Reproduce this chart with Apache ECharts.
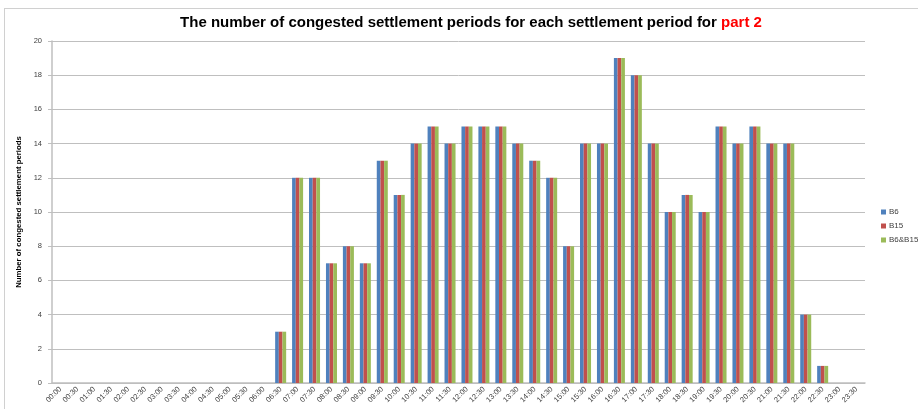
<!DOCTYPE html>
<html><head><meta charset="utf-8">
<script src="https://cdn.jsdelivr.net/npm/echarts@6/dist/echarts.min.js"></script>
<style>html,body{margin:0;padding:0;background:#fff}#c{width:918px;height:409px}</style>
</head><body><div id="c"></div>
<script>
const categories = ["00:00","00:30","01:00","01:30","02:00","02:30","03:00","03:30","04:00","04:30","05:00","05:30","06:00","06:30","07:00","07:30","08:00","08:30","09:00","09:30","10:00","10:30","11:00","11:30","12:00","12:30","13:00","13:30","14:00","14:30","15:00","15:30","16:00","16:30","17:00","17:30","18:00","18:30","19:00","19:30","20:00","20:30","21:00","21:30","22:00","22:30","23:00","23:30"];
const b6     = [0,0,0,0,0,0,0,0,0,0,0,0,0,3,12,12,7,8,7,13,11,14,15,14,15,15,15,14,13,12,8,14,14,19,18,14,10,11,10,15,14,15,14,14,4,1,0,0];
const b15    = [0,0,0,0,0,0,0,0,0,0,0,0,0,3,12,12,7,8,7,13,11,14,15,14,15,15,15,14,13,12,8,14,14,19,18,14,10,11,10,15,14,15,14,14,4,1,0,0];
const b6b15  = [0,0,0,0,0,0,0,0,0,0,0,0,0,3,12,12,7,8,7,13,11,14,15,14,15,15,15,14,13,12,8,14,14,19,18,14,10,11,10,15,14,15,14,14,4,1,0,0];
const seriesNames = ["B6","B15","B6&B15"];
const colors = ["#4F81BD","#C0504D","#9BBB59"];

const chart = echarts.init(document.getElementById('c'), null, {renderer:'canvas'});
const font = 'Liberation Sans, Arial, sans-serif';
chart.setOption({
  animation:false,
  color:colors,
  title:{
    text:'{a|The number of congested settlement periods for each settlement period for }{b|part 2}',
    left:466, top:10, textAlign:'center',
    textStyle:{rich:{
      a:{fontFamily:font,fontWeight:'bold',fontSize:15,color:'#000'},
      b:{fontFamily:font,fontWeight:'bold',fontSize:15,color:'#FF0000'}
    }}
  },
  legend:{
    orient:'vertical', left:876, top:203, itemWidth:5, itemHeight:5, itemGap:6,
    icon:'rect',
    textStyle:{fontFamily:font,fontSize:8,color:'#404040',padding:[0,0,0,-2]},
    data:seriesNames
  },
  grid:{left:52,right:53,top:41,bottom:26,containLabel:false},
  xAxis:{
    type:'category', data:categories,
    axisLine:{lineStyle:{color:'#BFBFBF',width:1.5}},
    axisTick:{show:false},
    axisLabel:{rotate:45,interval:0,fontFamily:font,fontSize:7.5,color:'#404040',margin:5}
  },
  yAxis:{
    type:'value', min:0, max:20, interval:2,
    name:'Number of congested settlement periods',
    nameLocation:'middle', nameGap:27,
    nameTextStyle:{fontFamily:font,fontWeight:'bold',fontSize:7.8,color:'#000'},
    axisLine:{show:true,lineStyle:{color:'#BFBFBF',width:1.5}},
    axisTick:{show:true,length:4,lineStyle:{color:'#BFBFBF'}},
    axisLabel:{fontFamily:font,fontSize:7.5,color:'#404040',margin:10},
    splitLine:{lineStyle:{color:'#BFBFBF',width:1}}
  },
  graphic:[
    {type:'line',shape:{x1:4.5,y1:8,x2:4.5,y2:409},style:{stroke:'#D0D0D0',lineWidth:1},silent:true},
    {type:'line',shape:{x1:4,y1:8.5,x2:918,y2:8.5},style:{stroke:'#D0D0D0',lineWidth:1},silent:true}
  ],
  series:[
    {name:seriesNames[0],type:'bar',data:b6,barGap:'0%',barCategoryGap:'35%'},
    {name:seriesNames[1],type:'bar',data:b15,barGap:'0%',barCategoryGap:'35%'},
    {name:seriesNames[2],type:'bar',data:b6b15,barGap:'0%',barCategoryGap:'35%'}
  ]
});
</script></body></html>
